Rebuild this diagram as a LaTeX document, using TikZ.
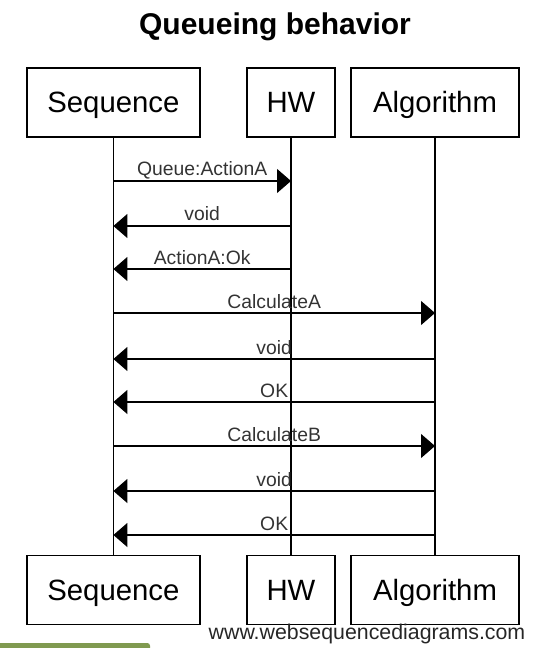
\documentclass[tikz,border=0pt]{standalone}
\usepackage{fontspec}
\setmainfont{Liberation Sans}
\usetikzlibrary{arrows.meta}
\usetikzlibrary{positioning}
\tikzset{>={Triangle[length=10.5pt,width=18pt]}}
\definecolor{wsdgreen}{RGB}{128,154,80}

\begin{document}
\begin{tikzpicture}[x=0.75pt,y=-0.75pt,
        actor/.style={draw, line width=0.9pt, minimum height=51.75pt, inner sep=0pt,
            text height=15.75pt, text depth=0pt, font=\fontsize{22}{26}\selectfont},
        msg/.style={->, line width=0.9pt},
        lbl/.style={anchor=base, inner sep=0pt, yshift=3.75pt, text=black!80,
            font=\fontsize{14.5}{17}\selectfont}]
        \useasboundingbox (0,0) rectangle (538,648);
        \node[anchor=base, font=\bfseries\fontsize{22.5}{27}\selectfont] (title) at (275,35) {Queueing behavior};

        % participants
        \node[actor, minimum width=129.75pt] (seqT) at (113.4,102.5) {Sequence};
        \node[actor, minimum width=66pt] (hwT) at (291,102.5) {HW};
        \node[actor, minimum width=126pt] (algT) at (435,102.5) {Algorithm};
        \node[actor, minimum width=129.75pt] (seqB) at (113.4,590) {Sequence};
        \node[actor, minimum width=66pt] (hwB) at (291,590) {HW};
        \node[actor, minimum width=126pt] (algB) at (435,590) {Algorithm};
        \draw[line width=0.9pt] (seqT) -- (seqB);
        \draw[line width=0.9pt] (hwT) -- (hwB);
        \draw[line width=0.9pt] (algT) -- (algB);

        % message rows
        \foreach \i/\y in {1/181,2/226,3/269,4/313,5/359,6/402,7/446,8/491,9/535}
            \coordinate (m\i) at (0,\y);

        \draw[msg] (seqT |- m1) -- node[lbl] {Queue:ActionA} (hwT |- m1);
        \draw[msg] (hwT |- m2) -- node[lbl] {void} (seqT |- m2);
        \draw[msg] (hwT |- m3) -- node[lbl] {ActionA:Ok} (seqT |- m3);
        \draw[msg] (seqT |- m4) -- node[lbl] {CalculateA} (algT |- m4);
        \draw[msg] (algT |- m5) -- node[lbl] {void} (seqT |- m5);
        \draw[msg] (algT |- m6) -- node[lbl] {OK} (seqT |- m6);
        \draw[msg] (seqT |- m7) -- node[lbl] {CalculateB} (algT |- m7);
        \draw[msg] (algT |- m8) -- node[lbl] {void} (seqT |- m8);
        \draw[msg] (algT |- m9) -- node[lbl] {OK} (seqT |- m9);

        \node[anchor=base, text=black!85, font=\fontsize{16}{19}\selectfont] (site) at (367,639) {www.websequencediagrams.com};
        \fill[wsdgreen, rounded corners=2pt] (-6,643) rectangle (150,656);
    \end{tikzpicture}
\end{document}
